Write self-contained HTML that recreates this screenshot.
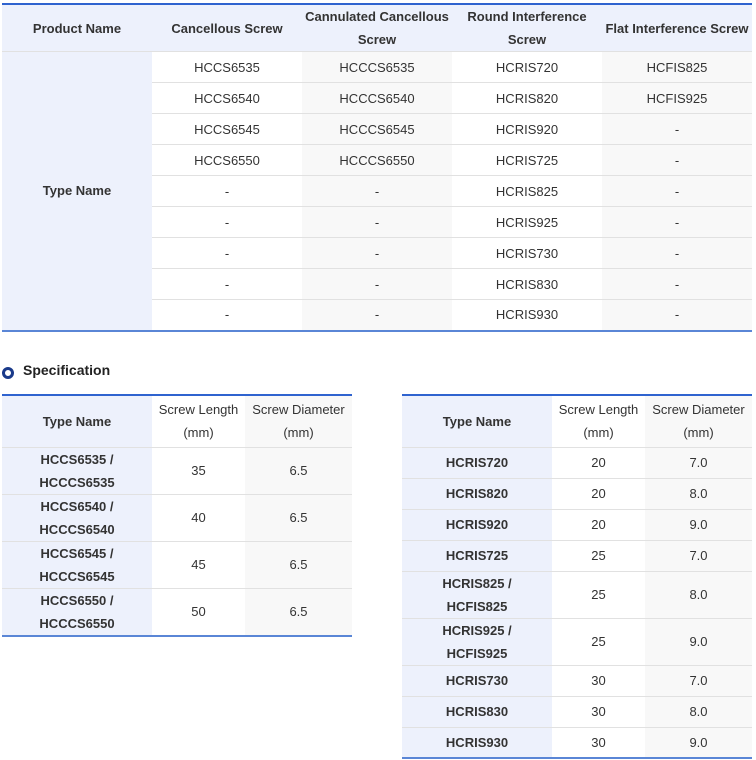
<!DOCTYPE html>
<html><head><meta charset="utf-8">
<style>
body{margin:0;width:756px;height:760px;background:#fff;font-family:"Liberation Sans",Arial,sans-serif;color:#333;position:relative;overflow:hidden}
table{border-collapse:collapse;table-layout:fixed;position:absolute;font-size:13px}
td,th{text-align:center;padding:0;border-bottom:1px solid #e1e1e1;line-height:23px}
th{font-weight:bold}
.b{background:#edf1fc}
.g{background:#f8f8f8}
.w{background:#fff}
.bold{font-weight:bold}
#t1{left:2px;top:3px;width:750px;border-top:2px solid #2f63cf;border-bottom:2px solid #5a86d6}
#t1 tr{height:31px}
#t1 tr.h{height:46px}
#t2{left:2px;top:394px;width:350px;border-top:2px solid #2f63cf;border-bottom:2px solid #5a86d6}
#t3{left:402px;top:394px;width:350px;border-top:2px solid #2f63cf;border-bottom:2px solid #5a86d6}
#t2 tr,#t3 tr{height:31px}
#t2 tr.h,#t3 tr.h{height:52px}
#t2 tr.d,#t3 tr.d{height:46px}
th.n{font-weight:normal}
#spec{position:absolute;left:3px;top:362px;font-size:14px;font-weight:bold;color:#222}
#dot{position:absolute;left:2px;top:367px;width:6px;height:6px;border:3px solid #1a3a8a;border-radius:50%;background:#fff}
</style></head><body>
<table id="t1">
<colgroup><col style="width:150px"><col style="width:150px"><col style="width:150px"><col style="width:150px"><col style="width:150px"></colgroup>
<tr class="h"><th class="b">Product Name</th><th class="b">Cancellous Screw</th><th class="b">Cannulated Cancellous Screw</th><th class="b">Round Interference Screw</th><th class="b">Flat Interference Screw</th></tr>
<tr><td class="b bold" rowspan="9">Type Name</td><td class="w">HCCS6535</td><td class="g">HCCCS6535</td><td class="w">HCRIS720</td><td class="g">HCFIS825</td></tr>
<tr><td class="w">HCCS6540</td><td class="g">HCCCS6540</td><td class="w">HCRIS820</td><td class="g">HCFIS925</td></tr>
<tr><td class="w">HCCS6545</td><td class="g">HCCCS6545</td><td class="w">HCRIS920</td><td class="g">-</td></tr>
<tr><td class="w">HCCS6550</td><td class="g">HCCCS6550</td><td class="w">HCRIS725</td><td class="g">-</td></tr>
<tr><td class="w">-</td><td class="g">-</td><td class="w">HCRIS825</td><td class="g">-</td></tr>
<tr><td class="w">-</td><td class="g">-</td><td class="w">HCRIS925</td><td class="g">-</td></tr>
<tr><td class="w">-</td><td class="g">-</td><td class="w">HCRIS730</td><td class="g">-</td></tr>
<tr><td class="w">-</td><td class="g">-</td><td class="w">HCRIS830</td><td class="g">-</td></tr>
<tr><td class="w" style="border-bottom:none">-</td><td class="g" style="border-bottom:none">-</td><td class="w" style="border-bottom:none">HCRIS930</td><td class="g" style="border-bottom:none">-</td></tr>
</table>

<div id="dot"></div>
<div id="spec" style="left:23px">Specification</div>

<table id="t2">
<colgroup><col style="width:150px"><col style="width:93px"><col style="width:107px"></colgroup>
<tr class="h"><th class="b">Type Name</th><th class="w n">Screw Length<br>(mm)</th><th class="g n">Screw Diameter<br>(mm)</th></tr>
<tr class="d"><td class="b bold">HCCS6535 /<br>HCCCS6535</td><td class="w">35</td><td class="g">6.5</td></tr>
<tr class="d"><td class="b bold">HCCS6540 /<br>HCCCS6540</td><td class="w">40</td><td class="g">6.5</td></tr>
<tr class="d"><td class="b bold">HCCS6545 /<br>HCCCS6545</td><td class="w">45</td><td class="g">6.5</td></tr>
<tr class="d"><td class="b bold" style="border-bottom:none">HCCS6550 /<br>HCCCS6550</td><td class="w" style="border-bottom:none">50</td><td class="g" style="border-bottom:none">6.5</td></tr>
</table>

<table id="t3">
<colgroup><col style="width:150px"><col style="width:93px"><col style="width:107px"></colgroup>
<tr class="h"><th class="b">Type Name</th><th class="w n">Screw Length<br>(mm)</th><th class="g n">Screw Diameter<br>(mm)</th></tr>
<tr><td class="b bold">HCRIS720</td><td class="w">20</td><td class="g">7.0</td></tr>
<tr><td class="b bold">HCRIS820</td><td class="w">20</td><td class="g">8.0</td></tr>
<tr><td class="b bold">HCRIS920</td><td class="w">20</td><td class="g">9.0</td></tr>
<tr><td class="b bold">HCRIS725</td><td class="w">25</td><td class="g">7.0</td></tr>
<tr class="d"><td class="b bold">HCRIS825 /<br>HCFIS825</td><td class="w">25</td><td class="g">8.0</td></tr>
<tr class="d"><td class="b bold">HCRIS925 /<br>HCFIS925</td><td class="w">25</td><td class="g">9.0</td></tr>
<tr><td class="b bold">HCRIS730</td><td class="w">30</td><td class="g">7.0</td></tr>
<tr><td class="b bold">HCRIS830</td><td class="w">30</td><td class="g">8.0</td></tr>
<tr><td class="b bold" style="border-bottom:none">HCRIS930</td><td class="w" style="border-bottom:none">30</td><td class="g" style="border-bottom:none">9.0</td></tr>
</table>
</body></html>
